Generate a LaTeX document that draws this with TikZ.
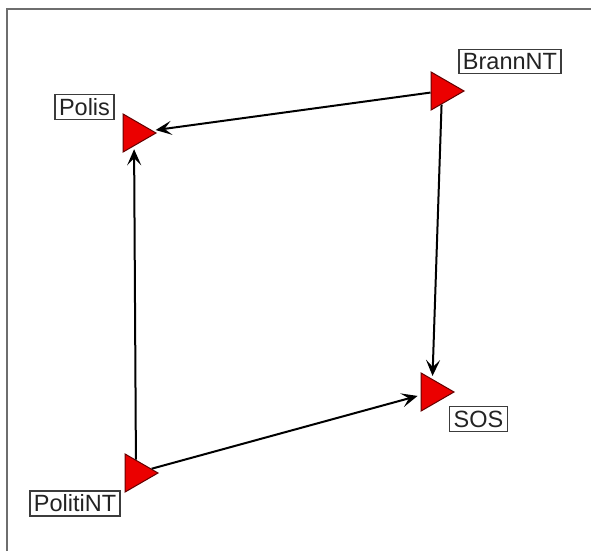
\documentclass[tikz,border=0pt]{standalone}
\usepackage{fontspec}
\setmainfont{Liberation Sans}
\usetikzlibrary{shapes.geometric,arrows.meta}
\definecolor{framegray}{RGB}{110,110,110}
\definecolor{boxgray}{RGB}{60,60,60}
\definecolor{textgray}{RGB}{35,35,35}
\definecolor{trired}{RGB}{235,0,0}
\definecolor{triedge}{RGB}{100,0,0}
\tikzset{
  actor/.style={regular polygon, regular polygon sides=3, regular polygon rotate=-90,
    minimum size=44pt, inner sep=0pt, fill=trired, draw=triedge, line width=1pt},
  lbl/.style={draw=boxgray, line width=1.5pt, fill=white, text=textgray,
    inner xsep=4pt, inner ysep=4pt, font=\fontsize{23.5}{26}\selectfont},
  link/.style={black, line width=2pt, -{Stealth[length=16pt,width=14pt,inset=7pt]}, shorten >=3pt}
}
\begin{document}
\begin{tikzpicture}[x=1pt,y=-1pt]
\useasboundingbox (0,0) rectangle (591,551);
\draw[framegray, line width=2pt] (6.5,551) -- (6.5,9.5) -- (591,9.5);

\node[actor] (polis) at (134,133) {};
\node[actor] (brann) at (442,91) {};
\node[actor] (sos) at (432,392) {};
\node[actor] (politi) at (136,473) {};

\node[lbl] (lpolis) at (84.5,107) {Polis};
\node[lbl] (lbrann) at (510,61.5) {BrannNT};
\node[lbl] (lsos) at (478.5,419) {SOS};
\node[lbl] (lpoliti) at (75,503.5) {PolitiNT};

\draw[link] (brann) -- (polis);
\draw[link] (brann) -- (sos);
\draw[link] (politi) -- (polis);
\draw[link] (politi) -- (sos);
\end{tikzpicture}
\end{document}
